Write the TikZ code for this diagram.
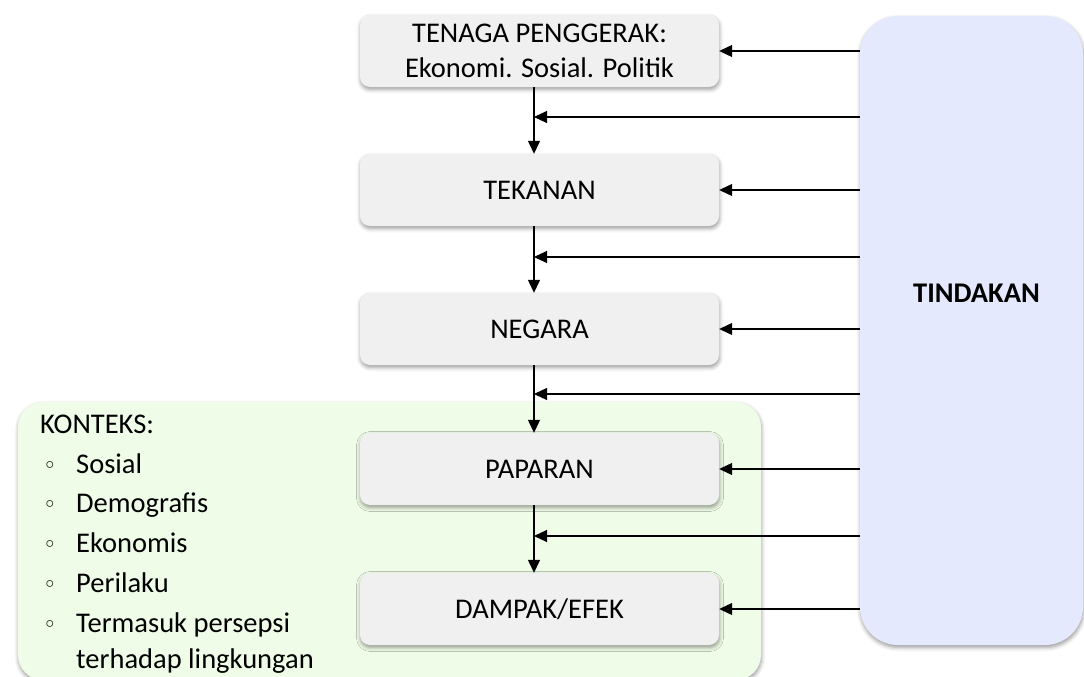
\documentclass[tikz,border=0pt]{standalone}
\usepackage{fontspec}
\setmainfont{Carlito}
\newfontfamily\bulletfont{DejaVu Sans}
\usetikzlibrary{arrows.meta,shadows.blur,calc}
\definecolor{boxgrey}{RGB}{240,240,240}
\definecolor{ctxgreen}{RGB}{239,252,231}
\definecolor{actblue}{RGB}{228,233,253}
\newcommand{\ctxitem}[1]{\makebox[33pt][l]{\bulletfont\fontsize{23}{23}\selectfont ◦}#1}
\begin{document}
\begin{tikzpicture}[x=1pt,y=-1pt,
  softshadow/.style={blur shadow={shadow xshift=0.5pt,shadow yshift=-2.5pt,shadow blur radius=4pt,shadow opacity=40}},
  stage/.style={rectangle, rounded corners=10pt, fill=boxgrey, minimum width=359pt,
    minimum height=72pt, inner sep=0pt, align=center, font=\fontsize{28.5}{35}\selectfont, softshadow},
  flow/.style={line width=1.3pt, -{Triangle[length=13pt,width=12pt]}},
  feed/.style={line width=1.1pt, -{Triangle[length=13pt,width=12pt]}},
  txt/.style={anchor=base west, inner sep=0pt, font=\fontsize{28.5}{34}\selectfont}]
\useasboundingbox (0,0) rectangle (1084,677);

% context panel, running off the lower edge
\begin{scope}
  \clip (0,0) rectangle (1084,677);
  \node[rectangle, rounded corners=25pt, fill=ctxgreen, minimum width=743pt, minimum height=278pt,
        inner sep=0pt, softshadow] (ctx) at (389.5,541) {};
\end{scope}

% action panel
\node[rectangle, rounded corners=38pt, fill=actblue, minimum width=223pt, minimum height=629pt,
      inner sep=0pt, softshadow] (tind) at (971.5,330.5) {};
\node[anchor=base, inner sep=0pt, font=\fontsize{28.5}{34}\selectfont\bfseries] (tindl) at (976.5,302.7) {TINDAKAN};

% chain of stages
\node[stage] (b1) at (539.5,51)  {TENAGA PENGGERAK:\\Ekonomi. Sosial. Politik};
\node[stage] (b2) at (539.5,190) {TEKANAN};
\node[stage] (b3) at (539.5,329) {NEGARA};
\node[stage] (b4) at (539.5,469) {PAPARAN};
\node[stage] (b5) at (539.5,609) {DAMPAK/EFEK};

% downward flow
\draw[flow] ([xshift=-5.5pt]b1.south) -- ([xshift=-5.5pt]b2.north);
\draw[flow] ([xshift=-5.5pt]b2.south) -- ([xshift=-5.5pt]b3.north);
\draw[flow] ([xshift=-5.5pt]b3.south) -- ([xshift=-5.5pt]b4.north);
\draw[flow] ([xshift=-5.5pt]b4.south) -- ([xshift=-5.5pt]b5.north);

% junctions on the flow line
\coordinate (m1) at (534,117);
\coordinate (m2) at (534,257);
\coordinate (m3) at (534,394);
\coordinate (m4) at (534,536);

% feedback from actions
\foreach \b in {b1,b2,b3,b4,b5}
  \draw[feed] (tind.west |- \b.east) -- (\b.east);
\foreach \m in {m1,m2,m3,m4}
  \draw[feed] (tind.west |- \m) -- (\m);

% context list
\node[txt] (k0) at (40,433) {KONTEKS:};
\node[txt] (k1) at (43,473) {\ctxitem{Sosial}};
\node[txt] (k2) at (43,512) {\ctxitem{Demografis}};
\node[txt] (k3) at (43,552) {\ctxitem{Ekonomis}};
\node[txt] (k4) at (43,592) {\ctxitem{Perilaku}};
\node[txt] (k5) at (43,632) {\ctxitem{Termasuk persepsi}};
\node[txt] (k6) at (76,668) {terhadap lingkungan};
\end{tikzpicture}
\end{document}
